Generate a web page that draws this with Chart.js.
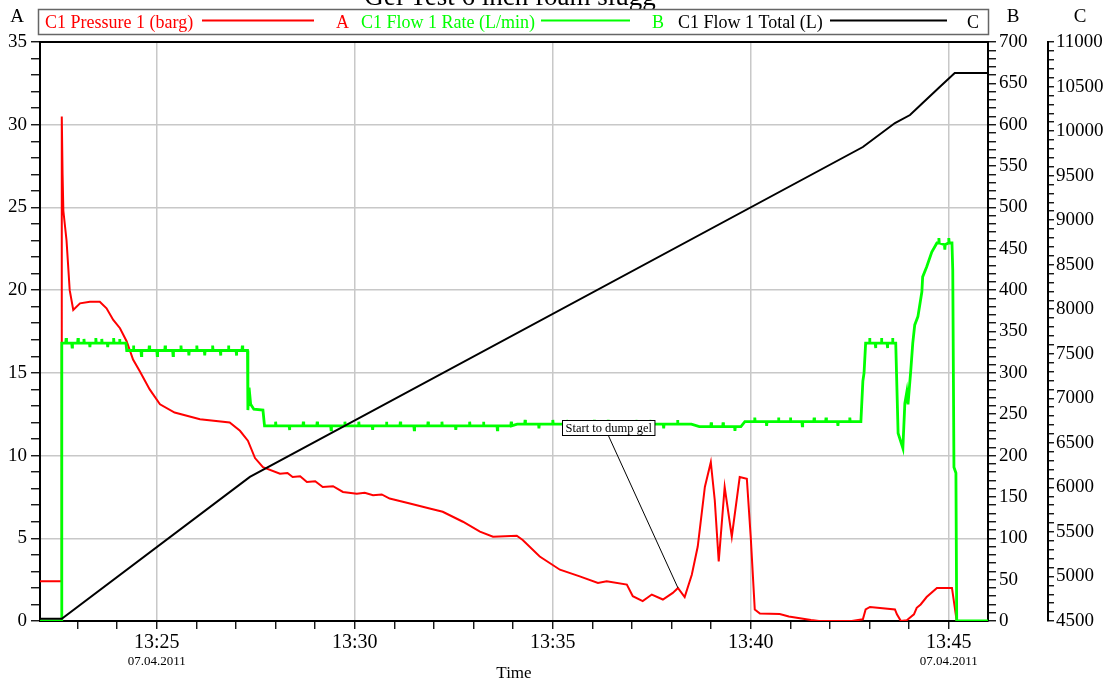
<!DOCTYPE html>
<html><head><meta charset="utf-8">
<script src="https://cdn.jsdelivr.net/npm/chart.js@4.4.0/dist/chart.umd.min.js"></script>
<style>html,body{margin:0;padding:0;background:#fff;overflow:hidden}canvas{display:block}</style>
</head><body>
<canvas id="c" width="1115" height="685"></canvas>
<script>
// ---------- data ----------
const TITLE = 'Gel Test 6 inch foam slugg';
const SERIES_NAMES = ['C1 Pressure 1 (barg)', 'C1 Flow 1 Rate (L/min)', 'C1 Flow 1 Total (L)'];
const AXIS_NAMES = ['A', 'B', 'C'];
const X_TITLE = 'Time';
const DATE_LABEL = '07.04.2011';
const HOUR = 13;
const X_MIN = 22.05, X_MAX = 45.99;            // minutes after 13:00
const X_LABEL_MINUTES = [25, 30, 35, 40, 45];
const DATE_MINUTES = [25, 45];
const A_RANGE = [0, 35], B_RANGE = [0, 700], C_RANGE = [4500, 11000];
const A_MAJOR = 5, B_MAJOR = 50, C_MAJOR = 500;
const A_MINOR = 1, B_MINOR = 10, C_MINOR = 100;

// [minute after 13:00, barg]
const pressure = [[22.05,2.4],[22.59,2.4],[22.60,30.5],[22.62,27.0],[22.64,24.8],[22.72,23.0],[22.80,20.0],[22.89,18.8],[23.06,19.2],[23.31,19.3],[23.56,19.3],[23.73,18.9],[23.90,18.2],[24.07,17.7],[24.24,16.9],[24.40,15.8],[24.57,15.1],[24.82,14.0],[25.08,13.1],[25.45,12.6],[26.09,12.2],[26.84,12.0],[27.10,11.5],[27.30,10.9],[27.48,9.85],[27.68,9.3],[28.11,8.9],[28.30,8.95],[28.43,8.7],[28.62,8.75],[28.79,8.4],[29.00,8.45],[29.19,8.1],[29.45,8.15],[29.70,7.8],[30.05,7.7],[30.25,7.75],[30.46,7.6],[30.68,7.65],[30.88,7.4],[31.39,7.1],[31.89,6.8],[32.22,6.6],[32.73,6.0],[33.16,5.4],[33.49,5.1],[34.09,5.15],[34.24,4.9],[34.67,3.9],[35.18,3.1],[35.68,2.7],[36.14,2.3],[36.36,2.4],[36.87,2.2],[37.02,1.5],[37.27,1.2],[37.50,1.6],[37.78,1.3],[38.03,1.7],[38.16,2.0],[38.33,1.45],[38.51,2.8],[38.66,4.5],[38.84,8.1],[38.99,9.6],[39.09,7.3],[39.19,3.6],[39.34,8.1],[39.52,5.1],[39.72,8.7],[39.90,8.6],[40.00,5.0],[40.10,0.7],[40.23,0.45],[40.73,0.42],[40.96,0.27],[41.52,0.06],[41.72,0.0],[42.55,0.0],[42.83,0.1],[42.90,0.7],[43.01,0.85],[43.64,0.7],[43.69,0.4],[43.79,0.0],[43.94,0.05],[44.12,0.4],[44.19,0.8],[44.29,1.0],[44.44,1.45],[44.70,2.0],[45.08,2.0],[45.20,0.0],[45.99,0.0]];

// [minute after 13:00, L/min]
const flowRate = [[22.05,0],[22.59,0],[22.60,336],
[22.70,336],[22.71,342],[22.72,336],[22.85,336],[22.86,331],[22.87,336],[23.00,336],[23.01,342],[23.02,336],
[23.15,336],[23.16,341],[23.17,336],[23.30,336],[23.31,331],[23.32,336],[23.45,336],[23.46,342],[23.47,336],
[23.60,336],[23.61,341],[23.62,336],[23.75,336],[23.76,331],[23.77,336],[23.90,336],[23.91,342],[23.92,336],
[24.05,336],[24.06,341],[24.07,336],[24.22,336],[24.24,327],
[24.40,327],[24.41,333],[24.42,327],[24.60,327],[24.61,321],[24.62,327],[24.80,327],[24.81,333],[24.82,327],
[25.00,327],[25.01,321],[25.02,327],[25.20,327],[25.21,333],[25.22,327],[25.40,327],[25.41,321],[25.42,327],
[25.60,327],[25.61,333],[25.62,327],[25.80,327],[25.81,321],[25.82,327],[26.00,327],[26.01,333],[26.02,327],
[26.20,327],[26.21,321],[26.22,327],[26.40,327],[26.41,333],[26.42,327],[26.60,327],[26.61,321],[26.62,327],
[26.80,327],[26.81,333],[26.82,327],[27.00,327],[27.01,321],[27.02,327],[27.15,327],[27.16,333],[27.17,327],
[27.29,327],[27.30,255],[27.33,282],[27.37,262],[27.45,256],[27.68,255],[27.72,236],
[27.99,236],[28.00,241],[28.01,236],[28.34,236],[28.35,231],[28.36,236],[28.69,236],[28.70,241],[28.71,236],
[29.04,236],[29.05,241],[29.06,236],[29.39,236],[29.40,231],[29.41,236],[29.74,236],[29.75,241],[29.76,236],
[30.09,236],[30.10,241],[30.11,236],[30.44,236],[30.45,231],[30.46,236],[30.79,236],[30.80,241],[30.81,236],
[31.14,236],[31.15,241],[31.16,236],[31.49,236],[31.50,231],[31.51,236],[31.84,236],[31.85,241],[31.86,236],
[32.19,236],[32.20,241],[32.21,236],[32.54,236],[32.55,231],[32.56,236],[32.89,236],[32.90,241],[32.91,236],
[33.24,236],[33.25,241],[33.26,236],[33.59,236],[33.60,231],[33.61,236],[33.94,236],[33.95,241],[33.96,236],
[34.10,238],[34.29,238],[34.30,243],[34.31,238],[34.64,238],[34.65,233],[34.66,238],[34.99,238],[35.00,243],[35.01,238],
[35.34,238],[35.35,243],[35.36,238],[35.69,238],[35.70,233],[35.71,238],[36.04,238],[36.05,243],[36.06,238],
[36.39,238],[36.40,243],[36.41,238],[36.74,238],[36.75,233],[36.76,238],[37.09,238],[37.10,243],[37.11,238],
[37.44,238],[37.45,243],[37.46,238],[37.79,238],[37.80,233],[37.81,238],[38.14,238],[38.15,243],[38.16,238],
[38.50,238],[38.70,235],[38.99,235],[39.00,240],[39.01,235],[39.29,235],[39.30,240],[39.31,235],
[39.59,235],[39.60,230],[39.61,235],[39.75,235],[39.85,241],
[40.09,241],[40.10,246],[40.11,241],[40.39,241],[40.40,236],[40.41,241],[40.69,241],[40.70,246],[40.71,241],
[40.99,241],[41.00,246],[41.01,241],[41.29,241],[41.30,236],[41.31,241],[41.59,241],[41.60,246],[41.61,241],
[41.89,241],[41.90,246],[41.91,241],[42.19,241],[42.20,236],[42.21,241],[42.49,241],[42.50,246],[42.51,241],
[42.78,241],[42.83,290],[42.86,300],[42.90,336],
[42.99,336],[43.00,342],[43.01,336],[43.14,336],[43.15,330],[43.16,336],[43.29,336],[43.30,342],[43.31,336],
[43.44,336],[43.45,330],[43.46,336],[43.57,336],[43.58,342],[43.59,336],
[43.66,336],[43.72,227],[43.84,209],[43.89,263],[43.94,277],[43.97,262],[44.04,303],[44.09,336],[44.14,358],[44.22,368],[44.32,398],[44.34,416],[44.44,428],[44.57,446],[44.70,457],
[44.74,457],[44.75,463],[44.76,457],[44.89,455],[44.90,449],[44.91,455],[44.99,457],[45.00,463],[45.01,457],
[45.08,457],[45.10,424],[45.13,186],[45.18,179],[45.20,0],[45.99,0]];

// [minute after 13:00, L]
const flowTotal = [[22.05,4525],[22.60,4525],[27.35,6117],[42.83,9821],[43.64,10090],[44.02,10180],[44.34,10315],[44.77,10495],[45.15,10652],[45.99,10652]];

const NOTE = { text: 'Start to dump gel', x: 38.16, y: 2.0, boxX: 35.23, boxY: 12.15 };

// ---------- styling ----------
const SERIF = "'Liberation Serif', 'Times New Roman', serif";
const COLORS = ['#ff0000', '#00ff00', '#000000'];
const GRID = '#c8c8c8';

function range(a, b, step) { const r = []; for (let v = a; v <= b + 1e-9; v += step) r.push(Math.round(v * 1000) / 1000); return r; }
const toXY = arr => arr.map(([x, y]) => ({ x, y }));

function yAxis(pos, rng, major, minor, width, weight, onArea, tickLen, pad) {
  return {
    type: 'linear', position: pos, min: rng[0], max: rng[1], weight,
    afterBuildTicks: s => { s.ticks = range(rng[0], rng[1], minor).map(v => ({ value: v })); },
    afterFit: s => { s.width = width; },
    ticks: {
      autoSkip: false, padding: pad, color: '#000',
      font: { family: SERIF, size: 19 },
      callback: v => (Math.abs((v - rng[0]) % major) < 1e-6 ? String(v) : '')
    },
    grid: {
      drawOnChartArea: onArea, tickLength: tickLen, tickColor: '#000', tickWidth: 1.3,
      lineWidth: 1.5,
      color: c => (onArea && c.tick && c.tick.value % major === 0 && c.tick.value !== rng[0] && c.tick.value !== rng[1]) ? GRID : 'rgba(0,0,0,0)'
    },
    border: { display: true, color: '#000', width: 2 }
  };
}

const deco = {
  id: 'deco',
  afterDraw(chart) {
    const { ctx, chartArea: a, scales } = chart;
    ctx.save();
    // frame top
    ctx.strokeStyle = '#000'; ctx.lineWidth = 2;
    ctx.beginPath(); ctx.moveTo(a.left, a.top); ctx.lineTo(a.right + 1, a.top); ctx.stroke();
    // title (partly above the canvas, as in the reference)
    ctx.fillStyle = '#000'; ctx.textAlign = 'center'; ctx.textBaseline = 'alphabetic';
    ctx.font = '27px ' + SERIF;
    ctx.fillText(TITLE, 510, 5);
    // legend box
    ctx.fillStyle = '#fff'; ctx.fillRect(38.5, 9.5, 950, 25);
    ctx.strokeStyle = '#666'; ctx.lineWidth = 1.5;
    ctx.strokeRect(38.5, 9.5, 950, 25);
    ctx.font = '18px ' + SERIF; ctx.textAlign = 'left'; ctx.textBaseline = 'alphabetic';
    const items = [
      { x: 45, line: [202, 314], letter: 336 },
      { x: 361, line: [541, 630], letter: 652 },
      { x: 678, line: [830, 947], letter: 967 }
    ];
    items.forEach((it, i) => {
      ctx.fillStyle = COLORS[i];
      ctx.fillText(SERIES_NAMES[i], it.x, 28);
      ctx.fillText(AXIS_NAMES[i], it.letter, 28);
      ctx.strokeStyle = COLORS[i]; ctx.lineWidth = 2;
      ctx.beginPath(); ctx.moveTo(it.line[0], 20.5); ctx.lineTo(it.line[1], 20.5); ctx.stroke();
    });
    // axis letters
    ctx.fillStyle = '#000'; ctx.font = '19px ' + SERIF; ctx.textAlign = 'center'; ctx.textBaseline = 'middle';
    ctx.fillText(AXIS_NAMES[0], 17, 17);
    ctx.fillText(AXIS_NAMES[1], 1013, 17);
    ctx.fillText(AXIS_NAMES[2], 1080, 17);
    // dates under first/last labels
    ctx.font = '13px ' + SERIF;
    DATE_MINUTES.forEach(m => ctx.fillText(DATE_LABEL, scales.x.getPixelForValue(m), 662));
    // annotation
    const tx = scales.x.getPixelForValue(NOTE.x), ty = scales.A.getPixelForValue(NOTE.y);
    const bx = scales.x.getPixelForValue(NOTE.boxX), by = scales.A.getPixelForValue(NOTE.boxY);
    ctx.font = '12.5px ' + SERIF;
    const w = ctx.measureText(NOTE.text).width + 6, h = 15;
    ctx.strokeStyle = '#000'; ctx.lineWidth = 1;
    ctx.beginPath(); ctx.moveTo(bx + w / 2, by + h); ctx.lineTo(tx, ty); ctx.stroke();
    ctx.fillStyle = '#fff'; ctx.fillRect(Math.round(bx) + 0.5, Math.round(by) + 0.5, w, h);
    ctx.strokeRect(Math.round(bx) + 0.5, Math.round(by) + 0.5, w, h);
    ctx.fillStyle = '#000'; ctx.textAlign = 'left'; ctx.textBaseline = 'middle';
    ctx.fillText(NOTE.text, Math.round(bx) + 3.5, Math.round(by) + 8.5);
    ctx.restore();
  }
};

new Chart(document.getElementById('c'), {
  type: 'line',
  data: {
    datasets: [
      { label: SERIES_NAMES[0], data: toXY(pressure), yAxisID: 'A', borderColor: COLORS[0], borderWidth: 2, pointRadius: 0, tension: 0, order: 3 },
      { label: SERIES_NAMES[1], data: toXY(flowRate), yAxisID: 'B', borderColor: COLORS[1], borderWidth: 2.8, pointRadius: 0, tension: 0, order: 2 },
      { label: SERIES_NAMES[2], data: toXY(flowTotal), yAxisID: 'C', borderColor: COLORS[2], borderWidth: 2, pointRadius: 0, tension: 0, order: 1 }
    ]
  },
  options: {
    responsive: false, animation: false, events: [],
    layout: { padding: { top: 42, left: 0, right: 0, bottom: 0 } },
    plugins: { legend: { display: false }, title: { display: false }, tooltip: { enabled: false } },
    scales: {
      x: {
        type: 'linear', position: 'bottom', min: X_MIN, max: X_MAX,
        afterBuildTicks: s => { s.ticks = range(23, 45, 1).map(v => ({ value: v })); },
        afterFit: s => { s.height = 64; },
        ticks: {
          autoSkip: false, maxRotation: 0, padding: 2, color: '#000',
          font: { family: SERIF, size: 20 },
          callback: v => (X_LABEL_MINUTES.includes(v) ? HOUR + ':' + v : '')
        },
        grid: {
          tickLength: 8, tickColor: '#000', tickWidth: 1.3, lineWidth: 1.5,
          color: c => (c.tick && X_LABEL_MINUTES.includes(c.tick.value)) ? GRID : 'rgba(0,0,0,0)'
        },
        border: { display: true, color: '#000', width: 2 },
        title: { display: true, text: X_TITLE, color: '#000', font: { family: SERIF, size: 17 }, padding: { top: 0, bottom: 1 } }
      },
      A: yAxis('left', A_RANGE, A_MAJOR, A_MINOR, 40, 0, true, 9, 4),
      B: yAxis('right', B_RANGE, B_MAJOR, B_MINOR, 60, 0, false, 8, 3),
      C: yAxis('right', C_RANGE, C_MAJOR, C_MINOR, 67, 1, false, 6, 2)
    }
  },
  plugins: [deco]
});
</script>
</body></html>
